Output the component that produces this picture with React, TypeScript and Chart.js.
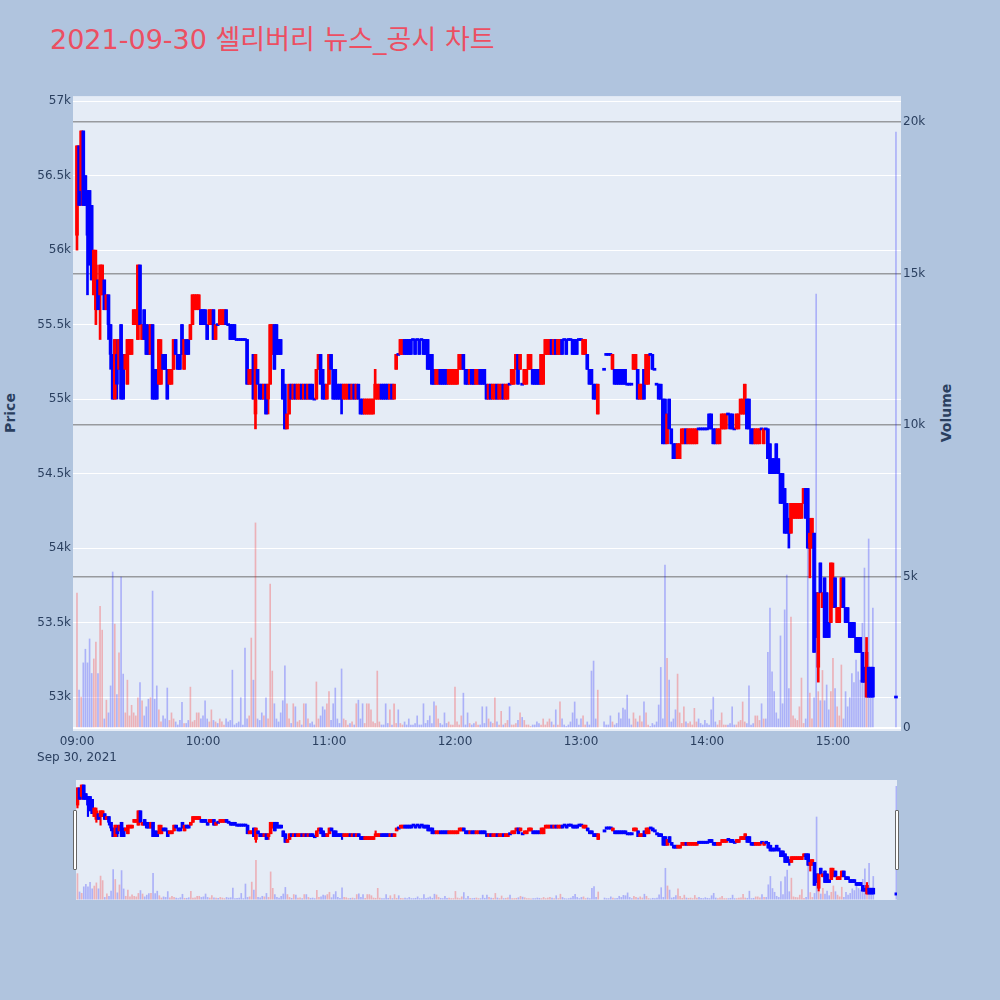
import React, { useEffect, useRef } from "react";
import { Chart, registerables } from "chart.js";

Chart.register(...registerables);

const TITLE = "2021-09-30 셀리버리 뉴스_공시 차트";
const DATE_LABEL = "Sep 30, 2021";
const HOUR_LABELS = ["09:00", "10:00", "11:00", "12:00", "13:00", "14:00", "15:00"];
const HOUR_TICKS = [0, 60, 120, 180, 240, 300, 360];
const PRICE_TICKS = [53000, 53500, 54000, 54500, 55000, 55500, 56000, 56500, 57000];
const VOLUME_TICKS = [0, 5000, 10000, 15000, 20000];
const PRICE_UNIT = 100;

// Per-minute candles in units of 100 won: [open, high, low, close]; null = no trade
const ohlc09: (number[] | null)[] = [
  [561,567,560,567],[567,567,563,563],[564,568,563,568],[568,568,563,563],[565,565,563,563],
  [564,564,557,561],[564,564,559,559],[563,563,558,558],[557,560,557,560],[556,560,555,559],
  [558,558,556,556],[557,559,554,559],[557,559,557,559],[558,558,556,556],[556,557,556,557],
  [557,557,554,555],[555,555,552,553],[553,553,550,550],[550,554,550,554],[553,554,550,551],
  [552,554,552,554],[555,555,550,550],[553,553,550,550],[552,553,552,553],[551,554,551,554],
  [553,554,553,554],[553,554,553,554],[555,556,555,556],[555,556,555,556],[554,559,554,559],
  [559,559,555,555],[554,555,554,555],[556,556,554,554],[555,555,553,553],[554,555,553,553],
  [553,555,553,555],[555,555,550,550],[552,552,550,550],[551,552,550,550],[551,554,551,554],
  [551,554,551,553],[553,553,552,552],[553,553,552,552],[552,552,550,550],[551,552,551,552],
  [551,552,551,552],[552,554,552,554],[554,554,553,553],[553,553,552,552],[553,553,552,552],
  [555,555,553,553],[552,554,552,554],[554,554,553,553],[554,554,553,553],[554,555,554,555],
  [555,557,555,557],[556,557,556,557],[556,557,556,557],[556,557,556,557],[556,556,555,555],
];
const ohlc10: (number[] | null)[] = [
  [556,556,555,555],[556,556,555,555],[555,555,554,554],[555,556,555,556],[555,556,555,556],
  [556,556,554,554],[554,555,554,555],[555,555,555,555],[555,556,555,556],[555,556,555,556],
  [555,556,555,556],[556,556,555,555],[555,555,555,555],[555,555,554,554],[555,555,554,554],
  [555,555,554,554],[554,554,554,554],[554,554,554,554],[554,554,554,554],[554,554,554,554],
  [554,554,554,554],[554,554,551,551],[551,552,551,552],[551,552,551,552],[553,553,550,550],
  [549,553,548,553],[552,552,551,551],[551,551,550,550],[551,551,550,550],[550,551,550,551],
  [551,551,549,549],[550,551,549,551],[551,555,551,555],[553,555,553,555],[555,555,552,552],
  [555,555,553,553],[554,554,553,553],[554,554,553,553],[552,552,550,550],[551,551,548,548],
  [548,549,548,549],[549,551,549,551],[551,551,550,550],[550,551,550,551],[551,551,550,550],
  [550,551,550,551],[550,551,550,551],[551,551,550,550],[550,551,550,551],[551,551,550,550],
  [550,551,550,551],[551,551,550,550],[551,551,550,550],[550,550,550,550],[550,552,550,552],
  [552,553,552,553],[553,553,551,551],[552,552,550,550],[551,551,550,550],[550,551,550,551],
];
const ohlc11: (number[] | null)[] = [
  [551,553,551,553],[553,553,552,552],[552,552,550,550],[552,552,550,550],[551,551,550,550],
  [551,551,550,550],[551,551,549,550],[550,551,550,551],[550,551,550,551],[550,551,550,551],
  [551,551,550,550],[550,551,550,551],[551,551,550,550],[550,551,550,551],[551,551,550,550],
  [550,550,549,549],[550,550,549,549],[549,550,549,550],[549,550,549,550],[549,550,549,550],
  [549,550,549,550],[549,550,549,550],[550,552,550,551],[550,551,550,551],[550,551,550,551],
  [551,551,550,550],[551,551,550,550],[551,551,550,550],[551,551,550,550],[550,551,550,551],
  [551,551,550,550],[550,551,550,551],[552,553,552,553],[553,553,553,553],[553,554,553,554],
  [553,554,553,554],[554,554,553,553],[554,554,553,553],[554,554,553,553],[554,554,553,553],
  [554,554,554,554],[554,554,553,553],[554,554,554,554],[554,554,553,553],[554,554,554,554],
  [554,554,553,553],[554,554,553,553],[554,554,552,552],[553,553,552,552],[553,553,551,551],
  [552,552,551,551],[551,552,551,552],[551,552,551,552],[552,552,551,551],[552,552,551,551],
  [552,552,551,551],[552,552,551,551],[551,552,551,552],[551,552,551,552],[551,552,551,552],
];
const ohlc12: (number[] | null)[] = [
  [551,552,551,552],[551,552,551,552],[552,553,552,553],[552,553,552,553],[553,553,552,552],
  [552,552,551,551],[552,552,551,551],[551,552,551,552],[552,552,551,551],[552,552,551,551],
  [551,552,551,552],[551,552,551,552],[552,552,551,551],[552,552,551,551],[552,552,551,551],
  [551,551,550,550],[550,551,550,551],[551,551,550,550],[550,551,550,551],[550,551,550,551],
  [551,551,550,550],[550,551,550,551],[550,551,550,551],[551,551,550,550],[550,551,550,551],
  [550,551,550,551],[551,551,551,551],[551,552,551,552],[551,552,551,552],[552,553,552,553],
  [553,553,551,551],[552,553,552,553],[551,551,551,551],[551,552,551,552],[551,552,551,552],
  [552,553,552,553],[552,553,552,553],[552,552,551,551],[552,552,551,551],[552,552,551,551],
  [552,552,551,551],[551,553,551,553],[551,553,551,553],[553,554,553,554],[553,554,553,554],
  [553,554,553,554],[554,554,553,553],[553,554,553,554],[554,554,553,553],[553,554,553,554],
  [553,554,553,554],[554,554,553,553],[554,554,554,554],[554,554,553,553],[554,554,554,554],
  [554,554,554,554],[554,554,553,553],[554,554,553,553],[554,554,553,553],[554,554,554,554],
];
const ohlc13: (number[] | null)[] = [
  [554,554,554,554],[553,554,553,554],[553,554,553,554],[553,553,552,552],[552,552,551,551],
  [552,552,551,551],[551,551,550,550],[551,551,550,550],[549,551,549,551],null,
  null,[552,552,552,552],[553,553,553,553],[553,553,553,553],[553,553,553,553],
  [552,553,552,553],[552,552,551,551],[552,552,551,551],[552,552,551,551],[552,552,551,551],
  [552,552,551,551],[552,552,551,551],[551,551,551,551],[551,551,551,551],[551,551,551,551],
  [552,553,552,553],[552,553,552,553],[552,552,550,550],[550,551,550,551],[550,551,550,551],
  [552,552,550,550],[551,553,551,553],[551,553,551,553],[553,553,553,553],[553,553,552,552],
  [552,552,552,552],[551,551,551,551],[551,551,550,550],[551,551,550,550],[550,550,547,547],
  [550,550,547,547],[547,549,547,549],[550,550,548,548],[548,548,547,547],[547,547,546,546],
  [547,547,546,546],[546,547,546,547],[546,547,546,547],[547,548,547,548],[547,548,547,548],
  [548,548,547,547],[547,548,547,548],[547,548,547,548],[547,548,547,548],[547,548,547,548],
  [547,548,547,548],[548,548,548,548],[548,548,548,548],[548,548,548,548],[548,548,548,548],
];
const ohlc14: (number[] | null)[] = [
  [548,548,548,548],[549,549,548,548],[549,549,548,548],[548,548,547,547],[548,548,547,547],
  [547,548,547,548],[547,548,547,548],[548,549,548,549],[548,549,548,549],[548,549,548,549],
  [549,549,549,549],[549,549,548,548],[549,549,548,548],[548,548,548,548],[548,549,548,549],
  [548,549,548,549],[549,550,549,550],[549,550,549,550],[549,551,549,551],[550,550,548,548],
  [550,550,548,548],[548,548,547,547],[548,548,547,547],[547,548,547,548],[547,548,547,548],
  [547,548,547,548],[548,548,548,548],[547,548,547,548],[548,548,548,548],[548,548,546,546],
  [547,547,545,545],[546,546,545,545],[546,546,545,545],[547,547,545,546],[546,546,545,545],
  [545,545,543,543],[545,545,543,543],[544,544,541,541],[543,543,541,541],[542,542,540,541],
  [541,543,541,543],[542,543,542,543],[542,543,542,543],[542,543,542,543],[542,543,542,543],
  [542,543,542,543],[543,544,543,544],[544,544,542,542],[544,544,540,540],[540,542,538,541],
  [540,542,540,542],[541,541,533,533],[537,537,534,534],[532,537,531,537],[539,539,537,537],
  [536,537,536,537],[538,538,534,534],[537,537,534,534],[535,535,534,534],[535,539,535,539],
];
const ohlc15: (number[] | null)[] = [
  [536,539,536,538],[538,538,536,536],[535,536,535,536],[535,536,535,536],[536,538,536,538],
  [538,538,536,536],[536,536,535,535],[536,536,535,535],[535,535,534,534],[535,535,534,534],
  [535,535,534,534],[534,534,533,533],[534,534,533,533],[534,534,533,533],[533,533,531,531],
  [532,532,531,531],[530,534,530,533],[532,532,530,530],[532,532,530,530],[532,532,530,530],
  null,null,null,null,null,null,null,null,null,null,
  [530,530,530,530],
];

// Per-minute traded volume (shares)
const vol09: number[] = [
  4450,1250,1020,2150,2600,2150,2940,1800,2280,2840,
  1800,4020,3230,300,920,500,1390,5150,3430,1100,
  2480,4980,1780,500,1580,400,750,500,400,1000,
  1500,900,400,700,950,1000,4520,950,1390,600,
  200,400,300,1320,250,500,300,200,100,250,
  850,150,150,250,1350,200,250,500,500,300,
];
const vol10: number[] = [
  400,900,300,200,600,250,200,150,300,200,
  100,300,200,250,1910,100,150,200,1000,100,
  2640,300,400,2970,1580,6770,300,250,500,400,
  1000,300,4750,1880,800,300,200,500,900,2050,
  800,300,150,800,700,200,250,100,800,800,
  300,150,200,100,1520,300,400,700,600,800,
];
const vol11: number[] = [
  1200,250,800,1320,300,150,1950,300,250,100,
  150,200,100,800,920,300,800,150,800,800,
  600,200,150,1880,200,100,100,800,150,600,
  100,800,150,600,150,100,200,100,300,100,
  100,150,400,100,100,800,150,250,400,150,
  860,730,300,150,100,500,150,200,100,100,
];
const vol12: number[] = [
  1350,200,100,400,1150,100,500,150,100,150,
  200,100,100,700,150,700,300,200,150,1000,
  200,100,550,100,150,250,700,100,100,150,
  250,500,350,250,100,100,50,100,100,200,
  150,100,300,100,200,300,200,100,600,100,
  860,300,100,50,100,200,500,860,300,100,
];
const vol13: number[] = [
  300,400,100,200,100,1880,2210,300,1250,0,
  0,200,100,100,400,200,100,150,500,300,
  660,600,1090,300,100,500,300,200,400,200,
  860,500,100,50,150,100,200,760,2000,300,
  5380,2300,1580,200,300,600,1780,500,150,700,
  200,150,200,100,650,200,300,150,100,250,
];
const vol14: number[] = [
  150,100,600,1020,200,100,250,500,100,100,
  100,150,700,100,100,200,250,860,200,150,
  1390,100,150,400,400,250,800,300,300,2500,
  3960,1850,1200,500,300,3040,800,3900,5050,1300,
  3660,400,300,250,700,1650,150,300,6100,1150,
  300,1000,14320,1200,900,1900,900,1420,600,1200,
];
const vol15: number[] = [
  2300,1300,700,400,2080,300,1200,700,1000,1800,
  1500,2240,1850,1580,3460,5280,1500,6240,1800,3960,
  0,0,0,0,0,0,0,0,0,0,
  19670,
];

const OHLC_BY_HOUR = [ohlc09, ohlc10, ohlc11, ohlc12, ohlc13, ohlc14, ohlc15];
const VOL_BY_HOUR = [vol09, vol10, vol11, vol12, vol13, vol14, vol15];

const FONT = '"DejaVu Sans", "Noto Sans CJK KR", sans-serif';
const AXIS_COLOR = "#2a3f5f";
const UP = "#ff0000";
const DOWN = "#0000ff";
const UP_VOL = "rgba(255,0,0,0.25)";
const DOWN_VOL = "rgba(0,0,255,0.25)";
const PLOT_BG = "#e5ecf6";

type Candle = { t: number; o: number; h: number; l: number; c: number; v: number };

function buildCandles(): Candle[] {
  const out: Candle[] = [];
  OHLC_BY_HOUR.forEach((rows, hi) => {
    rows.forEach((row, i) => {
      if (!row) return;
      out.push({
        t: hi * 60 + i,
        o: row[0] * PRICE_UNIT,
        h: row[1] * PRICE_UNIT,
        l: row[2] * PRICE_UNIT,
        c: row[3] * PRICE_UNIT,
        v: VOL_BY_HOUR[hi][i],
      });
    });
  });
  return out;
}

function makeDatasets(candles: Candle[], dojiHalf: number, bodyW: number, wickW: number, volW: number) {
  const up = (k: Candle) => k.c > k.o;
  return [
    {
      type: "bar",
      yAxisID: "y2",
      data: candles.map((k) => ({ x: k.t, y: k.v })),
      backgroundColor: candles.map((k) => (up(k) ? UP_VOL : DOWN_VOL)),
      barThickness: volW,
      grouped: false,
      borderWidth: 0,
    },
    {
      type: "bar",
      yAxisID: "y",
      data: candles.map((k) => ({
        x: k.t,
        y: k.o === k.c ? [k.o - dojiHalf, k.o + dojiHalf] : [Math.min(k.o, k.c), Math.max(k.o, k.c)],
      })),
      backgroundColor: candles.map((k) => (up(k) ? UP : DOWN)),
      barThickness: bodyW,
      grouped: false,
      borderWidth: 0,
    },
    {
      type: "bar",
      yAxisID: "y",
      data: candles.map((k) => ({ x: k.t, y: [k.l, k.h] })),
      backgroundColor: candles.map((k) => (up(k) ? UP : DOWN)),
      barThickness: wickW,
      grouped: false,
      borderWidth: 0,
    },
  ];
}

const plotBgPlugin = {
  id: "plotBg",
  beforeDraw(chart: any) {
    const { ctx, chartArea: a } = chart;
    ctx.save();
    ctx.fillStyle = PLOT_BG;
    ctx.fillRect(a.left, a.top, a.right - a.left, a.bottom - a.top);
    ctx.restore();
  },
};

const fmtK = (v: number) => (v === 0 ? "0" : `${v / 1000}k`);

export default function App() {
  const mainRef = useRef<HTMLCanvasElement>(null);
  const sliderRef = useRef<HTMLCanvasElement>(null);

  useEffect(() => {
    const candles = buildCandles();
    const tickFont = { family: FONT, size: 12, lineHeight: 1.35 };

    const main = new Chart(mainRef.current as HTMLCanvasElement, {
      type: "bar",
      data: { datasets: makeDatasets(candles, 7, 3, 2, 1) as any },
      plugins: [plotBgPlugin],
      options: {
        animation: false,
        responsive: false,
        devicePixelRatio: 1,
        events: [],
        layout: { padding: { top: 10, left: 0, right: 0, bottom: 0 } },
        plugins: { legend: { display: false }, tooltip: { enabled: false } },
        scales: {
          x: {
            type: "linear",
            min: -1.9,
            max: 392.4,
            offset: false,
            grid: { display: false, drawTicks: false },
            border: { display: false },
            afterBuildTicks: (s: any) => {
              s.ticks = HOUR_TICKS.map((v) => ({ value: v }));
            },
            afterFit: (s: any) => {
              s.height = 45;
            },
            ticks: {
              autoSkip: false,
              maxRotation: 0,
              padding: 3,
              color: AXIS_COLOR,
              font: tickFont,
              callback: (value: any) => {
                const i = HOUR_TICKS.indexOf(Number(value));
                return i === 0 ? [HOUR_LABELS[0], DATE_LABEL] : HOUR_LABELS[i];
              },
            },
          },
          y: {
            type: "linear",
            position: "left",
            min: 52772,
            max: 57034,
            beginAtZero: false,
            grid: { color: "#ffffff", lineWidth: 1, drawTicks: false },
            border: { display: false },
            afterBuildTicks: (s: any) => {
              s.ticks = PRICE_TICKS.map((v) => ({ value: v }));
            },
            afterFit: (s: any) => {
              s.width = 73;
            },
            ticks: {
              autoSkip: false,
              padding: 2,
              color: AXIS_COLOR,
              font: tickFont,
              callback: (v: any) => fmtK(Number(v)),
            },
          },
          y2: {
            type: "linear",
            position: "right",
            min: -99,
            max: 20858,
            beginAtZero: false,
            grid: {
              drawTicks: false,
              color: (ctx: any) => (ctx.tick && ctx.tick.value === 0 ? "#ffffff" : "rgba(100,100,100,0.6)"),
              lineWidth: (ctx: any) => (ctx.tick && ctx.tick.value === 0 ? 2 : 1.5),
            },
            border: { display: false },
            afterBuildTicks: (s: any) => {
              s.ticks = VOLUME_TICKS.map((v) => ({ value: v }));
            },
            afterFit: (s: any) => {
              s.width = 99;
            },
            ticks: {
              autoSkip: false,
              padding: 2,
              color: AXIS_COLOR,
              font: tickFont,
              callback: (v: any) => fmtK(Number(v)),
            },
          },
        },
      } as any,
    });

    const slider = new Chart(sliderRef.current as HTMLCanvasElement, {
      type: "bar",
      data: { datasets: makeDatasets(candles, 40, 3, 1.5, 1) as any },
      plugins: [plotBgPlugin],
      options: {
        animation: false,
        responsive: false,
        devicePixelRatio: 1,
        events: [],
        layout: { padding: 0 },
        plugins: { legend: { display: false }, tooltip: { enabled: false } },
        scales: {
          x: { type: "linear", display: false, min: -0.7, max: 390.3, offset: false },
          y: { type: "linear", display: false, min: 52790, max: 56975, beginAtZero: false },
          y2: { type: "linear", display: false, min: -150, max: 20770, beginAtZero: false },
        },
      } as any,
    });

    return () => {
      main.destroy();
      slider.destroy();
    };
  }, []);

  const axisTitle = (text: string, cx: number, cy: number) => (
    <div
      style={{
        position: "absolute",
        left: cx,
        top: cy,
        transform: "translate(-50%, -50%) rotate(-90deg)",
        fontFamily: FONT,
        fontWeight: "bold",
        fontSize: 14,
        color: AXIS_COLOR,
        whiteSpace: "nowrap",
      }}
    >
      {text}
    </div>
  );

  const handle = (left: number) => (
    <div
      style={{
        position: "absolute",
        left,
        top: 810,
        width: 4,
        height: 60,
        background: "#ffffff",
        border: "1px solid #666",
        boxSizing: "border-box",
        borderRadius: 1,
      }}
    />
  );

  return (
    <div
      style={{
        position: "absolute",
        left: 0,
        top: 0,
        width: 1000,
        height: 1000,
        background: "#b0c4de",
        overflow: "hidden",
      }}
    >
      <div
        style={{
          position: "absolute",
          left: 50,
          top: 23,
          fontFamily: FONT,
          fontSize: 27,
          lineHeight: "34px",
          color: "#ec4f62",
          whiteSpace: "nowrap",
        }}
      >
        {TITLE}
      </div>
      {axisTitle("Price", 10, 413)}
      {axisTitle("Volume", 946, 413)}
      <canvas ref={mainRef} width={1000} height={690} style={{ position: "absolute", left: 0, top: 86 }} />
      <canvas ref={sliderRef} width={821} height={120} style={{ position: "absolute", left: 76, top: 780 }} />
      {handle(73)}
      {handle(895)}
    </div>
  );
}
